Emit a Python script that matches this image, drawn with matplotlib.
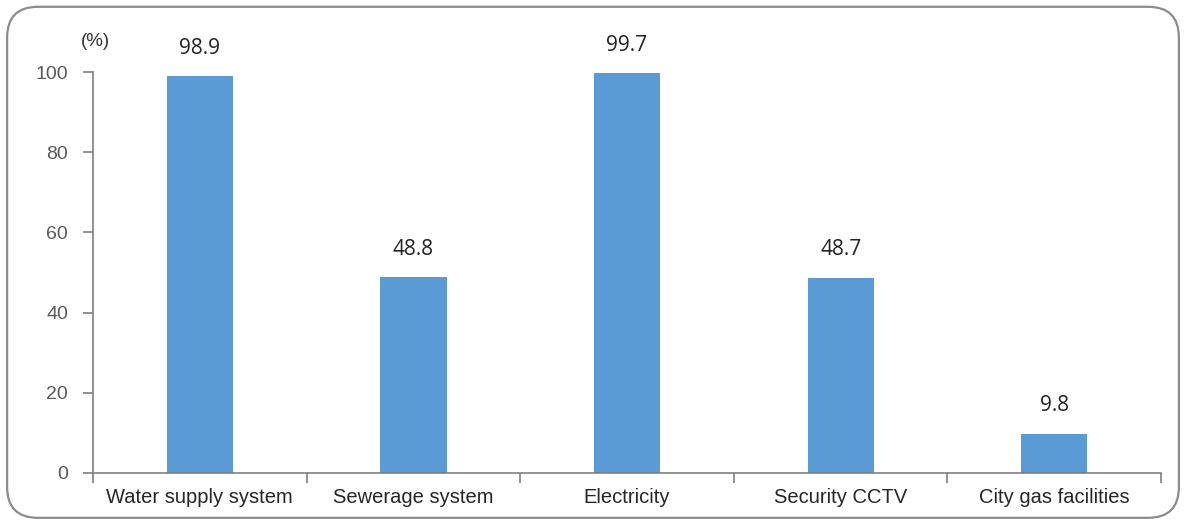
import matplotlib
matplotlib.use("Agg")
import matplotlib.pyplot as plt
from matplotlib.patches import FancyBboxPatch

categories = ["Water supply system", "Sewerage system", "Electricity",
              "Security CCTV", "City gas facilities"]
values = [98.9, 48.8, 99.7, 48.7, 9.8]
yticks = [0, 20, 40, 60, 80, 100]

fig = plt.figure(figsize=(11.86, 5.22), dpi=100)

# rounded frame around the whole chart, kept behind the axes
frame = FancyBboxPatch((0.006, 0.008), 0.988, 0.979,
                       boxstyle="round,pad=0,rounding_size=0.026",
                       transform=fig.transFigure, facecolor="white",
                       edgecolor="#8c8c8c", linewidth=1.6,
                       mutation_aspect=1186 / 522, zorder=-10)
fig.add_artist(frame)

ax = fig.add_axes([0.0784, 0.0939, 0.9006, 0.7681])
ax.set_facecolor("none")
ax.set_zorder(5)

x = range(len(categories))
bars = ax.bar(x, values, width=0.31, color="#5b9bd5", clip_on=False)

for xi, v in zip(x, values):
    ax.text(xi, v + 4.3, f"{v}", ha="center", va="bottom",
            fontsize=15, family="Open Sans", color="#222222")

ax.set_xlim(-0.5, len(categories) - 0.5)
ax.set_ylim(0, 100)
ax.set_yticks(yticks)
ax.set_yticklabels([str(t) for t in yticks], fontsize=14,
                   family="Liberation Sans", color="#595959")

# category boundaries carry the x tick marks
ax.set_xticks([i - 0.5 for i in range(len(categories) + 1)])
ax.set_xticklabels([])
ax.tick_params(axis="x", length=7, width=1.2, color="#7f7f7f", direction="out")
ax.tick_params(axis="y", length=7, width=1.2, color="#7f7f7f", direction="out", pad=11)
for xi, name in zip(x, categories):
    ax.text(xi, -3.8, name, ha="center", va="top", fontsize=14.5,
            family="Liberation Sans", color="#262626")

for side in ("top", "right"):
    ax.spines[side].set_visible(False)
for side in ("left", "bottom"):
    ax.spines[side].set_color("#7f7f7f")
    ax.spines[side].set_linewidth(1.2)

ax.text(-0.49, 105.5, "(%)", ha="center", va="bottom", fontsize=13.5,
        family="Liberation Sans", color="#333333")

fig.savefig("out.png", dpi=100, facecolor="white")
